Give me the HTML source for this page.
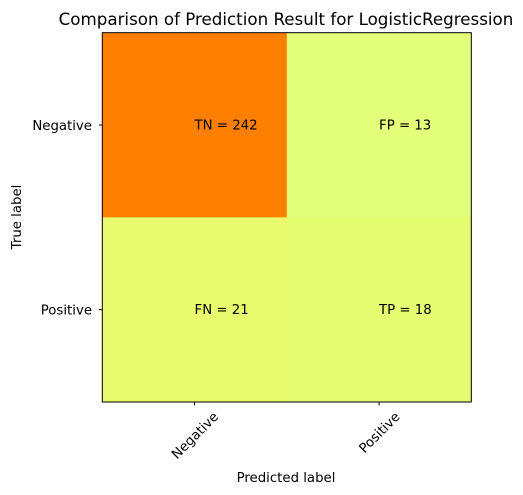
<!DOCTYPE html>
<html><head><meta charset="utf-8"><style>
html,body{margin:0;padding:0;background:#fff;}
svg{display:block;font-family:"DejaVu Sans","Liberation Sans",sans-serif;}
</style></head><body>
<svg id="chart" width="523" height="495">
<g id="cells"></g>
<g id="ticks"></g>
<rect x="102.3" y="32.7" width="369" height="369.3" fill="none" stroke="#000" stroke-width="1"/>
<text x="286" y="25" text-anchor="middle" font-size="16.7" fill="#000">Comparison of Prediction Result for LogisticRegression</text>
<text x="286" y="482" text-anchor="middle" font-size="13.3">Predicted label</text>
<text transform="translate(21,217) rotate(-90)" text-anchor="middle" font-size="13.3">True label</text>
</svg>
<script>
const classes = ["Negative","Positive"];
const cellNames = [["TN","FP"],["FN","TP"]];
const counts = [[242,13],[21,18]];

const x0=102.3, y0=32.7, cw=184.5, ch=184.65;
const ns="http://www.w3.org/2000/svg";
const flat=counts.flat(), vmin=Math.min(...flat), vmax=Math.max(...flat);
const stops=[[0,[228,255,122]],[0.25,[255,232,26]],[0.5,[255,189,0]],[0.75,[255,160,0]],[1,[252,127,0]]];
function color(v){
  const t=(v-vmin)/(vmax-vmin||1);
  for(let i=0;i<stops.length-1;i++){
    const [a,ca]=stops[i],[b,cb]=stops[i+1];
    if(t<=b){const f=(t-a)/(b-a);return "rgb("+ca.map((c,k)=>Math.round(c+(cb[k]-c)*f)).join(",")+")";}
  }
  return "rgb(252,127,0)";
}
const xc=j=>x0+cw*(j+0.5), yc=i=>y0+ch*(i+0.5);
const cells=document.getElementById("cells"), ticks=document.getElementById("ticks");
for(let i=0;i<2;i++)for(let j=0;j<2;j++){
  const r=document.createElementNS(ns,"rect");
  r.setAttribute("x",x0+cw*j);r.setAttribute("y",y0+ch*i);
  r.setAttribute("width",cw+0.5);r.setAttribute("height",ch+0.5);
  r.setAttribute("fill",color(counts[i][j]));
  
  
  cells.appendChild(r);
  const t=document.createElementNS(ns,"text");
  t.setAttribute("x",xc(j));t.setAttribute("y",yc(i)+4.5);
  t.setAttribute("font-size","13.3");
  t.textContent=cellNames[i][j]+" = "+counts[i][j];
  
  
  cells.appendChild(t);
}
classes.forEach((c,k)=>{
  const tx=document.createElementNS(ns,"line");
  tx.setAttribute("x1",xc(k));tx.setAttribute("x2",xc(k));tx.setAttribute("y1",402);tx.setAttribute("y2",405.5);tx.setAttribute("stroke","#000");
  
  
  ticks.appendChild(tx);
  const lx=document.createElementNS(ns,"text");
  lx.setAttribute("text-anchor","middle");lx.setAttribute("font-size","13.3");lx.setAttribute("dy","5");
  lx.textContent=c;
  
  
  ticks.appendChild(lx);
  const len=lx.getComputedTextLength();
  const half=(len+14)*0.7071/2;
  lx.setAttribute("transform","translate("+xc(k)+","+(409+half)+") rotate(-45)");
  const ty=document.createElementNS(ns,"line");
  ty.setAttribute("x1",98.8);ty.setAttribute("x2",102.3);ty.setAttribute("y1",yc(k));ty.setAttribute("y2",yc(k));ty.setAttribute("stroke","#000");
  
  
  ticks.appendChild(ty);
  const ly=document.createElementNS(ns,"text");
  ly.setAttribute("x",92);ly.setAttribute("y",yc(k)+5);
  ly.setAttribute("text-anchor","end");ly.setAttribute("font-size","13.3");
  ly.textContent=c;
  
  
  ticks.appendChild(ly);
});
</script>
</body></html>
